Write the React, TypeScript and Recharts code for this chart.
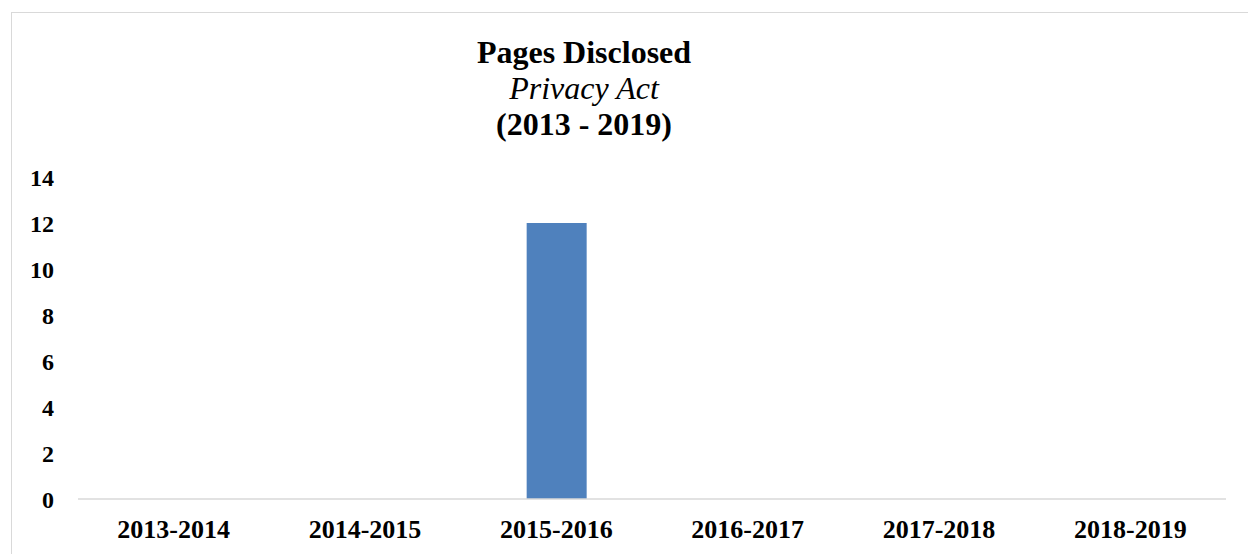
import React from 'react';
import { BarChart, Bar, XAxis, YAxis } from 'recharts';

const years = ['2013-2014', '2014-2015', '2015-2016', '2016-2017', '2017-2018', '2018-2019'];
const pagesDisclosed = [0, 0, 12, 0, 0, 0];
const yTicks = [0, 2, 4, 6, 8, 10, 12, 14];

const data = years.map((year, i) => ({ year, pages: pagesDisclosed[i] }));

const FONT = '"Liberation Serif", "Times New Roman", serif';

const App = () => {
  return (
    <div style={{ position: 'absolute', left: 0, top: 0, width: 1248, height: 554, overflow: 'hidden', background: '#fff' }}>
      {/* frame, runs off the right and bottom edge */}
      <div style={{ position: 'absolute', left: 11, top: 12, width: 1400, height: 700, border: '1px solid #d9d9d9' }} />

      {/* Title */}
      <div
        style={{
          position: 'absolute',
          left: 284,
          top: 34,
          width: 600,
          textAlign: 'center',
          fontFamily: FONT,
          fontSize: 32,
          lineHeight: '36px',
          fontWeight: 'bold',
          color: '#000',
        }}
      >
        <div>Pages Disclosed</div>
        <div style={{ fontStyle: 'italic', fontWeight: 'normal' }}>Privacy Act</div>
        <div>(2013 - 2019)</div>
      </div>

      <div style={{ position: 'absolute', left: 0, top: 0 }}>
        <BarChart width={1248} height={554} data={data} margin={{ top: 177, right: 22, bottom: 0, left: 0 }}>
          <XAxis
            dataKey="year"
            height={55}
            tickLine={false}
            tickSize={0}
            tickMargin={21}
            axisLine={{ stroke: '#d9d9d9', strokeWidth: 1.5 }}
            tick={{ fill: '#000', fontFamily: FONT, fontSize: 26, fontWeight: 'bold' }}
            interval={0}
          />
          <YAxis
            width={78}
            domain={[0, 14]}
            ticks={yTicks}
            axisLine={false}
            tickLine={false}
            tickSize={0}
            tickMargin={24}
            tick={{ fill: '#000', fontFamily: FONT, fontSize: 24, fontWeight: 'bold' }}
          />
          <Bar dataKey="pages" fill="#4F81BD" barSize={60} isAnimationActive={false} />
        </BarChart>
      </div>
    </div>
  );
};

export default App;
